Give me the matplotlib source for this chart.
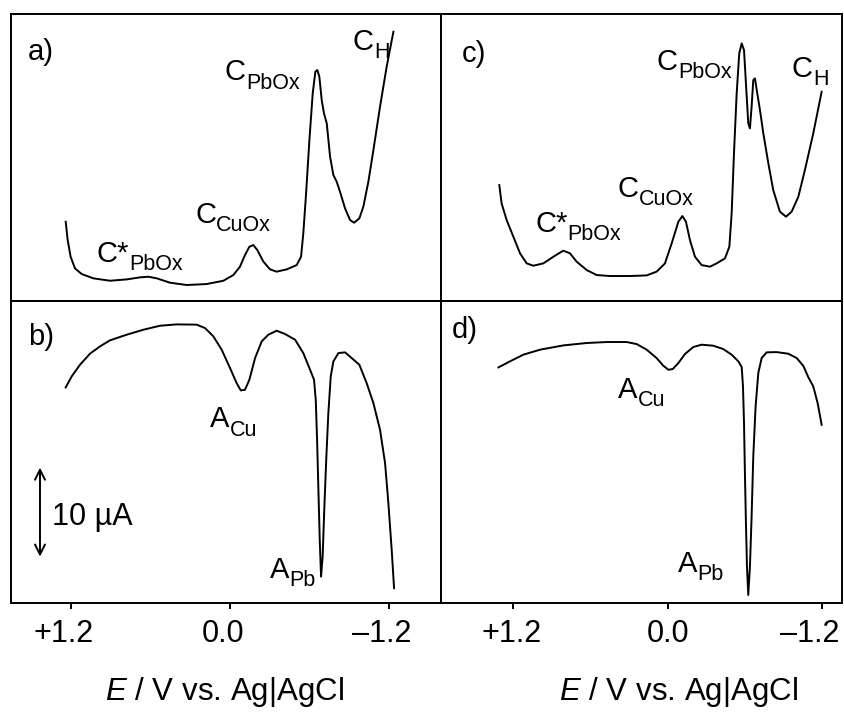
import numpy as np
import matplotlib
matplotlib.use("Agg")
import matplotlib.pyplot as plt
import matplotlib.transforms as mtransforms

plt.rcParams['font.family'] = ['Liberation Sans', 'DejaVu Sans']
plt.rcParams['mathtext.fontset'] = 'custom'
plt.rcParams['mathtext.rm'] = 'Liberation Sans'
plt.rcParams['mathtext.it'] = 'Liberation Sans:italic'

# ── Data (potential in V vs. Ag|AgCl, current in µA, arbitrary offset) ───────
# a) cathodic sweep, left sample
e_a = [1.240, 1.225, 1.203, 1.170, 1.119, 1.031, 0.906, 0.780, 0.679, 0.616,
       0.553, 0.453, 0.327, 0.176, 0.050, -0.025, -0.075, -0.113, -0.146, -0.176,
       -0.206, -0.252, -0.302, -0.352, -0.428, -0.503, -0.536, -0.553, -0.574, -0.599,
       -0.624, -0.644, -0.659, -0.674, -0.692, -0.709, -0.730, -0.755, -0.780, -0.805,
       -0.830, -0.868, -0.906, -0.936, -0.976, -1.006, -1.044, -1.082, -1.132, -1.182,
       -1.233]
i_a = [8.91, 6.85, 4.98, 3.67, 3.03, 2.55, 2.28, 2.43, 2.66, 2.73,
       2.55, 2.06, 1.80, 1.91, 2.28, 2.92, 3.86, 5.17, 6.10, 6.29,
       5.73, 4.42, 3.56, 3.30, 3.56, 4.04, 4.98, 7.60, 12.10, 18.09,
       23.33, 25.77, 25.96, 25.21, 22.58, 21.09, 19.96, 16.22, 14.16, 13.41,
       12.28, 10.41, 9.10, 8.80, 9.29, 10.60, 13.41, 16.97, 21.84, 26.33,
       30.26]

# b) anodic sweep, left sample
e_b = [1.240, 1.195, 1.132, 1.057, 0.981, 0.906, 0.780, 0.654, 0.528, 0.403,
       0.252, 0.189, 0.126, 0.063, 0.000, -0.050, -0.081, -0.113, -0.146, -0.189,
       -0.239, -0.289, -0.352, -0.415, -0.491, -0.553, -0.604, -0.634, -0.647, -0.657,
       -0.667, -0.677, -0.687, -0.699, -0.712, -0.727, -0.742, -0.760, -0.780, -0.818,
       -0.868, -0.918, -0.976, -1.031, -1.082, -1.132, -1.170, -1.195, -1.220, -1.238]
i_b = [24.19, 25.43, 26.74, 27.98, 28.80, 29.48, 30.11, 30.67, 31.12, 31.27,
       31.24, 30.86, 29.93, 28.43, 26.37, 24.68, 23.86, 23.93, 25.06, 27.49,
       29.36, 30.11, 30.56, 30.19, 29.55, 28.05, 26.18, 25.06, 22.81, 18.31,
       12.70, 7.08, 2.96, 5.21, 10.82, 16.44, 21.31, 25.43, 27.12, 28.05,
       28.13, 27.49, 26.74, 24.68, 22.43, 19.44, 15.69, 11.20, 5.96, 1.65]

# c) cathodic sweep, right sample
e_c = [1.308, 1.290, 1.251, 1.199, 1.147, 1.095, 1.044, 0.966, 0.888, 0.811,
       0.759, 0.707, 0.629, 0.552, 0.448, 0.293, 0.163, 0.086, 0.021, -0.031,
       -0.083, -0.114, -0.142, -0.173, -0.212, -0.264, -0.329, -0.380, -0.445, -0.479,
       -0.497, -0.515, -0.536, -0.556, -0.575, -0.593, -0.608, -0.626, -0.639, -0.652,
       -0.665, -0.678, -0.696, -0.717, -0.743, -0.782, -0.820, -0.872, -0.919, -0.963,
       -1.015, -1.066, -1.131, -1.196]
i_c = [13.03, 10.97, 9.10, 7.23, 5.36, 4.23, 3.97, 4.23, 4.98, 5.66,
       5.36, 4.42, 3.48, 2.92, 2.81, 2.81, 2.88, 3.30, 4.23, 6.48,
       8.91, 9.55, 8.91, 6.85, 4.98, 4.04, 3.86, 4.23, 4.79, 6.10,
       9.85, 16.59, 23.33, 27.83, 28.95, 28.20, 24.46, 19.96, 19.40, 21.84,
       24.83, 25.02, 23.33, 21.46, 18.84, 15.47, 12.47, 10.04, 9.48, 10.04,
       11.72, 14.72, 18.84, 23.52]

# d) anodic sweep, right sample
e_d = [1.315, 1.225, 1.121, 0.992, 0.811, 0.629, 0.474, 0.319, 0.241, 0.163,
       0.086, 0.034, -0.005, -0.039, -0.083, -0.134, -0.199, -0.264, -0.354, -0.432,
       -0.497, -0.549, -0.575, -0.585, -0.593, -0.600, -0.608, -0.616, -0.626, -0.639,
       -0.652, -0.665, -0.683, -0.704, -0.730, -0.769, -0.846, -0.937, -1.002, -1.053,
       -1.092, -1.131, -1.165, -1.196]
i_d = [26.44, 27.12, 27.87, 28.43, 28.91, 29.18, 29.29, 29.29, 29.06, 28.43,
       27.49, 26.63, 26.18, 26.25, 26.93, 27.94, 28.73, 28.99, 28.88, 28.50,
       27.87, 27.12, 26.48, 24.31, 20.19, 14.57, 8.95, 4.08, 0.90, 4.08,
       9.70, 16.44, 22.06, 25.81, 27.49, 28.13, 28.16, 27.98, 27.49, 26.63,
       25.36, 24.31, 22.43, 20.00]

tick_pos = [1.2, 0.0, -1.2]
tick_lab = ['+1.2', '0.0', '\u20131.2']
xlabel = '$E$ / V vs. Ag|AgCl'

# advance widths (em) of the main letters, Arial metrics
ADV = {'C': 0.722, 'A': 0.667, 'C*': 1.111}
FS_MAIN, FS_SUB = 21, 15.5


def peak_label(ax, x, y, main, sub):
    ax.text(x, y, main, fontsize=FS_MAIN)
    ax.annotate(sub, xy=(x, y), xytext=(ADV[main] * FS_MAIN, -6),
                textcoords='offset points', fontsize=FS_SUB)


# ── Figure ───────────────────────────────────────────────────────────────────
fig = plt.figure(figsize=(8.44, 7.13), dpi=100)

ax_a = fig.add_axes([0.0130, 0.5778, 0.5095, 0.4025])
ax_b = fig.add_axes([0.0130, 0.1543, 0.5095, 0.4236])
ax_c = fig.add_axes([0.5225, 0.5778, 0.4751, 0.4025])
ax_d = fig.add_axes([0.5225, 0.1543, 0.4751, 0.4236])

for ax, e, i in [(ax_a, e_a, i_a), (ax_b, e_b, i_b), (ax_c, e_c, i_c), (ax_d, e_d, i_d)]:
    ax.plot(e, i, color='black', linewidth=1.4, solid_joinstyle='round')
    for sp in ax.spines.values():
        sp.set_linewidth(1.4)
    ax.set_yticks([])

for ax in (ax_a, ax_b):
    ax.set_xlim(1.653, -1.592)
for ax in (ax_c, ax_d):
    ax.set_xlim(1.761, -1.354)
for ax in (ax_a, ax_c):
    ax.set_ylim(0, 32.25)
    ax.set_xticks([])
for ax in (ax_b, ax_d):
    ax.set_ylim(0, 33.9)
    ax.set_xticks(tick_pos)
    ax.set_xticklabels(tick_lab, fontsize=22)
    ax.tick_params(axis='x', direction='out', length=4.5, width=1.4, pad=7)

# nudge tick labels sideways as in the original layout (pixels)
shifts = {ax_b: [-7, -7, -7], ax_d: [-2, 0, -12]}
for ax, dx in shifts.items():
    for lab, d in zip(ax.get_xticklabels(), dx):
        lab.set_transform(lab.get_transform() +
                          mtransforms.ScaledTranslation(d / 100, 0, fig.dpi_scale_trans))

# panel letters
ax_a.text(0.040, 0.840, 'a)', transform=ax_a.transAxes, fontsize=FS_MAIN)
ax_b.text(0.040, 0.854, 'b)', transform=ax_b.transAxes, fontsize=FS_MAIN)
ax_c.text(0.052, 0.833, 'c)', transform=ax_c.transAxes, fontsize=FS_MAIN)
ax_d.text(0.027, 0.877, 'd)', transform=ax_d.transAxes, fontsize=FS_MAIN)

# a)
peak_label(ax_a, -0.928, 28.2, 'C', 'H')
peak_label(ax_a, 0.038, 24.8, 'C', 'PbOx')
peak_label(ax_a, 0.264, 8.76, 'C', 'CuOx')
peak_label(ax_a, 1.004, 4.38, 'C*', 'PbOx')
# c)
peak_label(ax_c, 0.083, 26.0, 'C', 'PbOx')
peak_label(ax_c, -0.965, 25.2, 'C', 'H')
peak_label(ax_c, 0.386, 11.7, 'C', 'CuOx')
peak_label(ax_c, 1.030, 7.75, 'C*', 'PbOx')
# b)
peak_label(ax_b, 0.151, 19.7, 'A', 'Cu')
peak_label(ax_b, -0.302, 2.8, 'A', 'Pb')
# d)
peak_label(ax_d, 0.386, 23.0, 'A', 'Cu')
peak_label(ax_d, -0.080, 3.5, 'A', 'Pb')

# 10 µA scale bar
ax_b.annotate('', xy=(1.434, 15.2), xytext=(1.434, 5.2),
              arrowprops=dict(arrowstyle='<->', color='black', lw=1.4,
                              mutation_scale=18, shrinkA=0, shrinkB=0))
ax_b.text(1.343, 8.76, '10 \u00b5A', fontsize=22)

fig.text(225 / 844, 1 - 700 / 713, xlabel, fontsize=22.5, ha='center', va='baseline')
fig.text(679 / 844, 1 - 700 / 713, xlabel, fontsize=22.5, ha='center', va='baseline')

fig.savefig('out.png', dpi=100)
